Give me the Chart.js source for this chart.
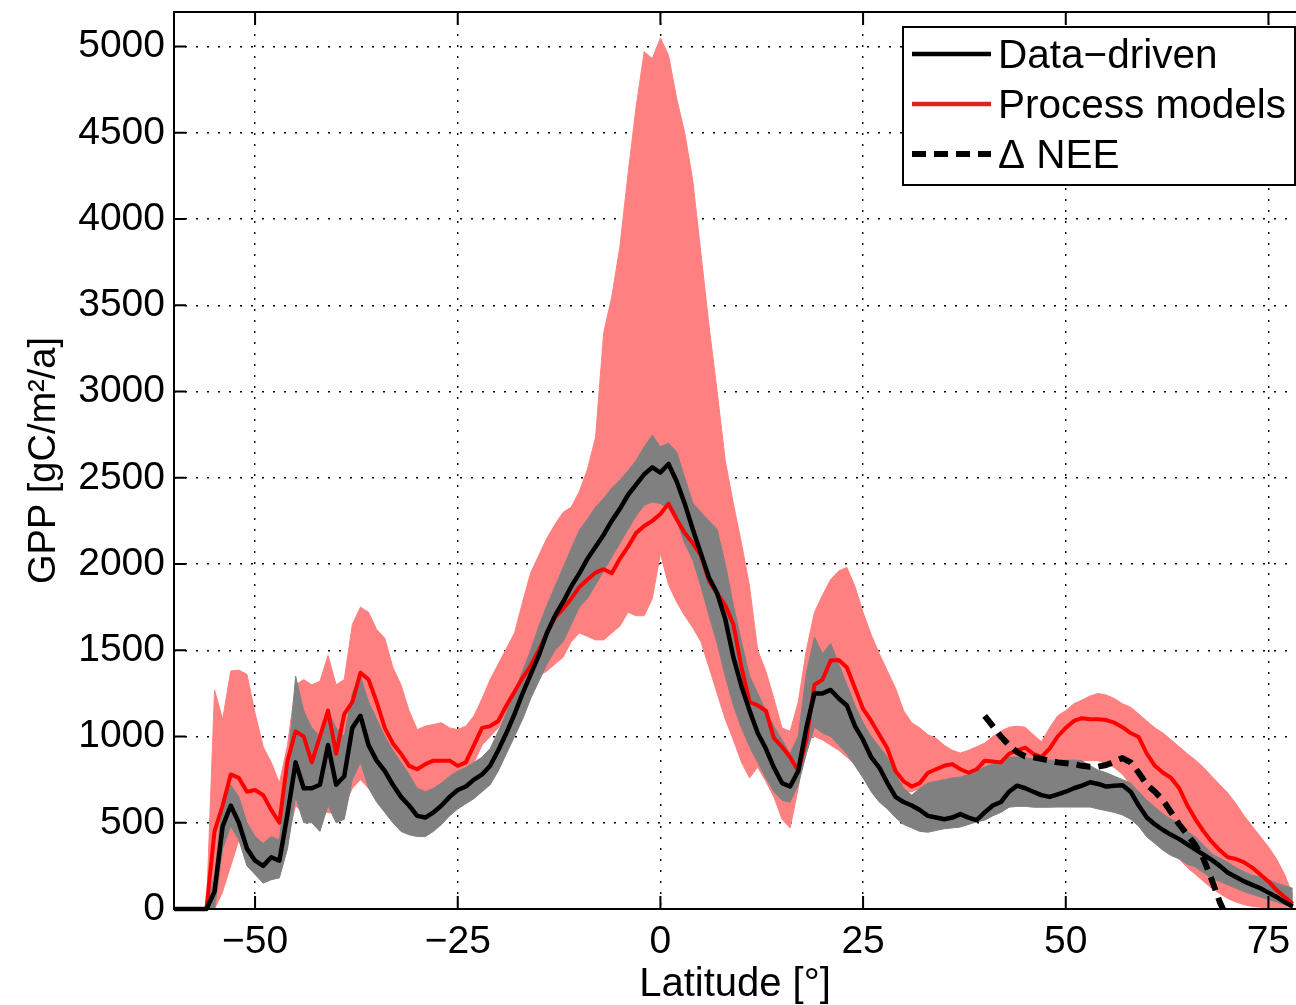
<!DOCTYPE html>
<html>
<head>
<meta charset="utf-8">
<title>GPP by latitude</title>
<script src="https://cdn.jsdelivr.net/npm/chart.js@4.4.1/dist/chart.umd.min.js"></script>
<style>
  html, body { margin: 0; padding: 0; background: #fff; overflow: hidden; }
</style>
</head>
<body>
<canvas id="gpp-chart" width="1296" height="1005"></canvas>
<script>
// Latitude grid of the zonal means (degrees)
const latitudes = [
  -60, -59, -58, -57, -56, -55, -54, -53, -52, -51, -50, -49, -48, -47, -46,
  -45, -44, -43, -42, -41, -40, -39, -38, -37, -36, -35, -34, -33, -32, -31,
  -30, -29, -28, -27, -26, -25, -24, -23, -22, -21, -20, -19, -18, -17, -16,
  -15, -14, -13, -12, -11, -10, -9, -8, -7, -6, -5, -4, -3, -2, -1,
  0, 1, 2, 3, 4, 5, 6, 7, 8, 9, 10, 11, 12, 13, 14,
  15, 16, 17, 18, 19, 20, 21, 22, 23, 24, 25, 26, 27, 28, 29,
  30, 31, 32, 33, 34, 35, 36, 37, 38, 39, 40, 41, 42, 43, 44,
  45, 46, 47, 48, 49, 50, 51, 52, 53, 54, 55, 56, 57, 58, 59,
  60, 61, 62, 63, 64, 65, 66, 67, 68, 69, 70, 71, 72, 73, 74,
  75, 76, 77, 78
];

// Data-driven GPP (gC/m2/a), black line
const dataDriven = [
  0, 0, 0, 0, 0, 100, 480, 600, 500, 350, 280, 250, 300, 280, 550,
  850, 700, 700, 720, 950, 720, 770, 1050, 1120, 950, 860, 800, 720, 650, 600,
  540, 530, 560, 600, 650, 690, 710, 750, 780, 830, 920, 1020, 1130, 1250, 1360,
  1470, 1600, 1700, 1780, 1870, 1946, 2030, 2100, 2170, 2250, 2320, 2400, 2460, 2520, 2560,
  2530, 2580, 2480, 2350, 2200, 2060, 1920, 1830, 1680, 1460, 1290, 1150, 1020, 930, 820,
  730, 710, 800, 1050, 1250, 1250, 1270, 1220, 1180, 1060, 980, 880, 820, 730, 650,
  620, 600, 574, 540, 530, 520, 530, 550, 530, 515, 560, 600, 620, 680, 715,
  700, 680, 660, 650, 665, 680, 700, 715, 735, 725, 710, 715, 718, 680, 600,
  530, 490, 458, 430, 405, 375, 345, 315, 285, 250, 210, 185, 160, 140, 120,
  95, 70, 40, 15
];
const dataDrivenMin = [
  0, 0, 0, 0, 0, 0, 350, 480, 400, 250, 200, 150, 170, 180, 350,
  650, 500, 500, 450, 600, 500, 520, 750, 850, 700, 620, 560, 500, 450, 430,
  420, 420, 450, 490, 540, 580, 610, 640, 680, 720, 800, 900, 1000, 1100, 1220,
  1320, 1420, 1500, 1550, 1650, 1750, 1800, 1880, 1960, 2040, 2120, 2200, 2280, 2340, 2360,
  2350, 2320, 2250, 2120, 2022, 1870, 1700, 1540, 1350, 1180, 1050, 940, 850, 760, 680,
  630, 620, 720, 900, 1054, 1020, 1000, 950, 900, 830, 760, 680, 620, 580, 530,
  490, 470, 450, 445, 455, 465, 470, 475, 490, 505, 515, 540, 560, 590, 595,
  595, 590, 590, 590, 591, 591, 591, 591, 591, 580, 570, 560, 545, 520, 480,
  417, 380, 340, 310, 290, 260, 243, 210, 175, 160, 140, 120, 100, 85, 70,
  55, 40, 25, 10
];
const dataDrivenMax = [
  0, 0, 0, 0, 0, 200, 620, 720, 650, 500, 420, 380, 420, 400, 800,
  1350, 1150, 1050, 1000, 1150, 1050, 1000, 1250, 1350, 1200, 1100, 1000, 920, 850, 780,
  700, 680, 700, 730, 770, 800, 820, 850, 880, 930, 1030, 1140, 1260, 1380, 1500,
  1640, 1760, 1870, 1980, 2090, 2196, 2260, 2330, 2380, 2440, 2485, 2540, 2600, 2680, 2746,
  2680, 2700, 2650, 2500, 2352, 2300, 2250, 2200, 2000, 1760, 1550, 1350, 1250, 1150, 1060,
  980, 900, 1000, 1367, 1576, 1480, 1540, 1420, 1300, 1180, 1080, 1000, 940, 880, 780,
  700, 660, 700, 730, 740, 750, 760, 765, 780, 800, 823, 840, 860, 880, 881,
  875, 870, 865, 863, 863, 863, 863, 860, 830, 805, 790, 770, 750, 730, 680,
  631, 590, 550, 520, 498, 450, 417, 370, 320, 295, 270, 240, 215, 195, 185,
  170, 150, 135, 120
];

// Process-model GPP, red line and model range
const processModels = [
  0, 0, 0, 0, 0, 450, 600, 780, 760, 680, 690, 660, 574, 500, 860,
  1030, 1000, 850, 1000, 1150, 900, 1130, 1200, 1370, 1330, 1200, 1050, 960, 900, 830,
  810, 840, 860, 860, 860, 830, 850, 950, 1050, 1060, 1090, 1180, 1260, 1340, 1410,
  1500, 1600, 1690, 1740, 1800, 1866, 1910, 1950, 1970, 1946, 2030, 2100, 2180, 2220, 2250,
  2290, 2350, 2260, 2180, 2120, 2050, 1900, 1830, 1760, 1650, 1400, 1200, 1180, 1150, 990,
  940, 880, 800, 980, 1300, 1330, 1440, 1443, 1400, 1280, 1160, 1090, 1010, 930, 800,
  740, 710, 730, 790, 810, 830, 840, 810, 790, 810, 860, 855, 850, 900, 920,
  935, 900, 880, 930, 1000, 1050, 1090, 1106, 1100, 1100, 1095, 1080, 1054, 1020, 997,
  900, 830, 790, 760, 700, 600, 520, 450, 390, 340, 300, 290, 270, 240, 200,
  160, 110, 70, 30
];
const modelMin = [
  0, 0, 0, 0, 0, 0, 100, 250, 400, 450, 400, 350, 350, 350, 400,
  600, 550, 550, 560, 560, 550, 600, 700, 750, 700, 650, 600, 550, 500, 500,
  500, 500, 540, 580, 620, 650, 750, 850, 950, 1000, 1050, 1150, 1200, 1250, 1300,
  1350, 1380, 1420, 1460, 1550, 1600, 1580, 1560, 1560, 1600, 1640, 1720, 1700, 1700, 1800,
  2060, 1880, 1780, 1700, 1630, 1550, 1400, 1250, 1100, 980, 850, 760, 823, 740, 650,
  520, 470, 700, 1000, 1000, 980, 950, 920, 880, 840, 800, 760, 740, 720, 700,
  680, 680, 700, 700, 700, 710, 720, 720, 700, 700, 720, 740, 760, 780, 780,
  780, 760, 760, 780, 800, 820, 840, 860, 860, 860, 840, 820, 780, 720, 640,
  560, 470, 400, 340, 290, 240, 200, 160, 120, 90, 60, 40, 25, 15, 10,
  5, 0, 0, 0
];
const modelMax = [
  0, 0, 0, 0, 0, 1270, 1100, 1380, 1385, 1360, 1135, 940, 850, 730, 950,
  1300, 1330, 1300, 1320, 1470, 1300, 1330, 1650, 1750, 1720, 1620, 1570, 1400, 1300, 1150,
  1040, 1060, 1070, 1080, 1050, 1040, 1060, 1120, 1220, 1330, 1420, 1510, 1600, 1780, 1950,
  2050, 2150, 2230, 2300, 2330, 2420, 2550, 2735, 3340, 3550, 3840, 4260, 4650, 4970, 4930,
  5050, 4950, 4700, 4500, 4220, 3800, 3380, 3000, 2600, 2350, 2120, 1870, 1500, 1380, 1220,
  1050, 1030, 1200, 1500, 1720, 1820, 1910, 1960, 1980, 1870, 1720, 1590, 1480, 1380, 1280,
  1150, 1080, 1050, 1010, 990, 950, 920, 904, 920, 940, 962, 1000, 1030, 1054, 1060,
  1054, 1010, 970, 1050, 1120, 1150, 1190, 1211, 1235, 1250, 1240, 1220, 1190, 1170, 1130,
  1090, 1050, 1020, 980, 940, 900, 863, 820, 770, 720, 672, 610, 540, 480, 420,
  360, 290, 200, 80
];

// Delta NEE based estimate (dashed), northern latitudes only
const neeLat = [40, 41, 42, 43, 44, 45, 46, 47, 48, 49, 50, 51, 52, 53, 54, 55, 56, 57, 58, 59,
  60, 61, 62, 63, 64, 65, 66, 67, 68, 69, 69.4];
const neeValues = [1120, 1060, 1000, 950, 910, 885, 880, 870, 860, 850, 845, 840, 830, 825, 825, 835, 855, 875, 850, 790,
  720, 680, 630, 560, 490, 430, 370, 290, 170, 40, 0];

// Axis ticks
const xTicks = [-50, -25, 0, 25, 50, 75];
const xTickLabels = ['\u221250', '\u221225', '0', '25', '50', '75'];
const yTicks = [0, 500, 1000, 1500, 2000, 2500, 3000, 3500, 4000, 4500, 5000];

const FONT = "'Liberation Sans', Arial, Helvetica, sans-serif";
const MODEL_FILL = '#ff8080';
const DD_FILL = '#808080';

const legendItems = [
  { label: 'Data\u2212driven', color: '#000000', width: 4.5, dash: [] },
  { label: 'Process models', color: '#e0201a', width: 4.5, dash: [] },
  { label: '\u0394 NEE', color: '#000000', width: 6, dash: [14, 8] }
];

function toPoints(xs, ys) {
  return xs.map((x, i) => ({ x: x, y: ys[i] }));
}

// MATLAB style box, inward ticks and legend
const matlabFrame = {
  id: 'matlabFrame',
  afterDraw(chart) {
    const ctx = chart.ctx;
    const a = chart.chartArea;
    const xs = chart.scales.x;
    const ys = chart.scales.y;

    ctx.save();
    ctx.strokeStyle = '#000';
    ctx.lineWidth = 2;
    ctx.setLineDash([]);
    ctx.beginPath();
    ctx.moveTo(a.right + 2, a.top);
    ctx.lineTo(a.left, a.top);
    ctx.lineTo(a.left, a.bottom);
    ctx.lineTo(a.right + 2, a.bottom);
    ctx.stroke();

    ctx.beginPath();
    xTicks.forEach(v => {
      const px = xs.getPixelForValue(v);
      ctx.moveTo(px, a.bottom);
      ctx.lineTo(px, a.bottom - 13);
      ctx.moveTo(px, a.top);
      ctx.lineTo(px, a.top + 13);
    });
    yTicks.forEach(v => {
      const py = ys.getPixelForValue(v);
      ctx.moveTo(a.left, py);
      ctx.lineTo(a.left + 12, py);
    });
    ctx.stroke();

    // legend box
    const boxW = 392, boxH = 158;
    const bx = a.right - boxW - 1;
    const by = a.top + 15;
    ctx.fillStyle = '#fff';
    ctx.fillRect(bx, by, boxW, boxH);
    ctx.lineWidth = 2;
    ctx.strokeRect(bx, by, boxW, boxH);

    ctx.font = '40.5px ' + FONT;
    ctx.textAlign = 'left';
    ctx.textBaseline = 'alphabetic';
    legendItems.forEach((item, i) => {
      const base = by + 41 + i * 50;
      const ly = base - 14;
      ctx.strokeStyle = item.color;
      ctx.lineWidth = item.width;
      ctx.setLineDash(item.dash);
      ctx.beginPath();
      ctx.moveTo(bx + 9, ly);
      ctx.lineTo(bx + 88, ly);
      ctx.stroke();
      ctx.fillStyle = '#000';
      ctx.fillText(item.label, bx + 95, base);
    });
    ctx.restore();
  }
};

const ctx = document.getElementById('gpp-chart');
const chart = new Chart(ctx, {
  type: 'line',
  data: {
    datasets: [
      { label: 'model min', data: toPoints(latitudes, modelMin), borderColor: MODEL_FILL, borderWidth: 1,
        fill: false, order: 6 },
      { label: 'model max', data: toPoints(latitudes, modelMax), borderColor: MODEL_FILL, borderWidth: 1,
        backgroundColor: MODEL_FILL, fill: '-1', order: 5 },
      { label: 'data-driven min', data: toPoints(latitudes, dataDrivenMin), borderColor: DD_FILL, borderWidth: 1,
        fill: false, order: 4 },
      { label: 'data-driven max', data: toPoints(latitudes, dataDrivenMax), borderColor: DD_FILL, borderWidth: 1,
        backgroundColor: DD_FILL, fill: '-1', order: 3 },
      { label: 'Process models', data: toPoints(latitudes, processModels), borderColor: '#ff0000',
        borderWidth: 4, order: 2, clip: 6 },
      { label: 'Data-driven', data: toPoints(latitudes, dataDriven), borderColor: '#000000',
        borderWidth: 4.5, order: 1, clip: 6 },
      { label: '\u0394 NEE', data: toPoints(neeLat, neeValues), borderColor: '#000000',
        borderWidth: 6, borderDash: [14, 8], order: 0, clip: 6 }
    ]
  },
  options: {
    responsive: false,
    animation: false,
    layout: { padding: { top: 12, left: 0, right: 0, bottom: 0 } },
    elements: {
      point: { radius: 0 },
      line: { tension: 0, borderJoinStyle: 'round', borderCapStyle: 'butt' }
    },
    plugins: {
      legend: { display: false },
      tooltip: { enabled: false }
    },
    scales: {
      x: {
        type: 'linear',
        min: -60,
        max: 78.4,
        afterBuildTicks: s => { s.ticks = xTicks.map(v => ({ value: v })); },
        afterFit: s => { s.height = 96; s.paddingLeft = 0; s.paddingRight = 0; },
        grid: { drawTicks: false, color: '#000', lineWidth: 1.4 },
        border: { display: false, dash: [2, 9] },
        ticks: {
          maxRotation: 0,
          padding: 10,
          color: '#000',
          font: { family: FONT, size: 39 },
          callback: v => xTickLabels[xTicks.indexOf(v)]
        },
        title: {
          display: true,
          text: 'Latitude [\u00b0]',
          color: '#000',
          font: { family: FONT, size: 40, lineHeight: 1 },
          padding: { top: 0, bottom: 0 }
        }
      },
      y: {
        min: 0,
        max: 5200,
        afterBuildTicks: s => { s.ticks = yTicks.map(v => ({ value: v })); },
        afterFit: s => { s.width = 174; s.paddingTop = 0; s.paddingBottom = 0; },
        grid: { drawTicks: false, color: '#000', lineWidth: 1.4 },
        border: { display: false, dash: [2, 9] },
        ticks: {
          padding: 9,
          color: '#000',
          font: { family: FONT, size: 39 },
          callback: v => String(v)
        },
        title: {
          display: true,
          text: 'GPP [gC/m\u00b2/a]',
          color: '#000',
          font: { family: FONT, size: 38, lineHeight: 1 },
          padding: { top: 26, bottom: 0 }
        }
      }
    }
  },
  plugins: [matlabFrame]
});
</script>
</body>
</html>
